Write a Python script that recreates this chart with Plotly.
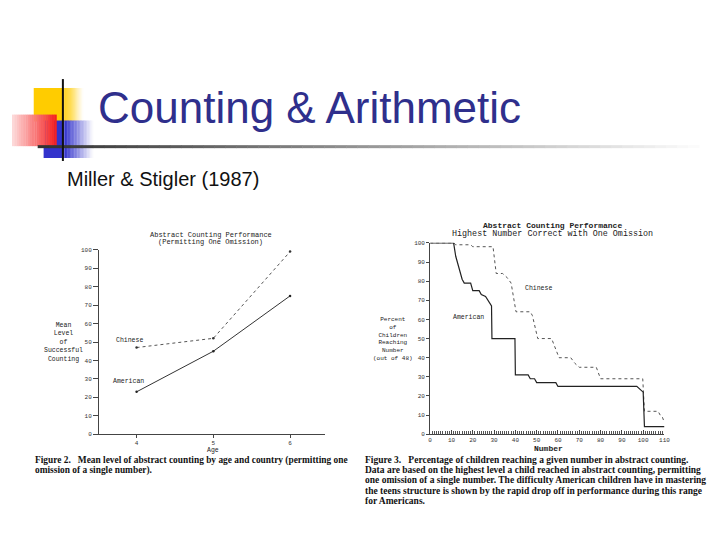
import plotly.graph_objects as go

# ---------------- data ----------------
ages = [4, 5, 6]
chinese_mean = [47, 52, 99]
american_mean = [23, 45, 75]
left_yticks = [0, 10, 20, 30, 40, 50, 60, 70, 80, 90, 100]

american_num = [0, 11, 12, 13, 14, 15, 16, 19, 20, 23, 24, 26, 28.8, 29, 39.8, 40, 46, 47, 49, 50, 59, 60, 97, 99, 100, 100.6, 110]
american_pct = [100, 100, 93, 89, 86, 81, 79, 79, 75, 75, 73, 72, 67, 50, 50, 31, 31, 29, 29, 27, 27, 25, 25, 23, 22, 4, 4]
chinese_num = [0, 11, 12, 19, 20, 29.5, 31, 34, 36, 38, 40.3, 47, 48, 50.5, 57, 59, 60.5, 66, 68, 70, 78, 80, 99.8, 100.6, 107, 108, 109, 110]
chinese_pct = [100, 100, 99, 99, 98, 98, 84, 84, 82, 79, 64, 64, 62, 50, 50, 44, 40, 40, 37, 35, 35, 29, 29, 12, 12, 10, 9, 6]
right_xticks = [0, 10, 20, 30, 40, 50, 60, 70, 80, 90, 100, 110]
right_yticks = [0, 10, 20, 30, 40, 50, 60, 70, 80, 90, 100]

title_text = "Counting & Arithmetic"
subtitle_text = "Miller & Stigler (1987)"
left_title = ["Abstract Counting Performance", "(Permitting One Omission)"]
right_title = ["Abstract Counting Performance", "Highest Number Correct with One Omission"]
left_ytitle = "Mean<br>Level<br>of<br>Successful<br>Counting"
right_ytitle = "Percent<br>of<br>Children<br>Reaching<br>Number<br>(out of 48)"
cap_left = ["<b>Figure 2.   Mean level of abstract counting by age and country (permitting one</b>",
            "<b>omission of a single number).</b>"]
cap_right = ["<b>Figure 3.   Percentage of children reaching a given number in abstract counting.</b>",
             "<b>Data are based on the highest level a child reached in abstract counting, permitting</b>",
             "<b>one omission of a single number. The difficulty American children have in mastering</b>",
             "<b>the teens structure is shown by the rapid drop off in performance during this range</b>",
             "<b>for Americans.</b>"]

# page has an 8px body margin; figure fits inside the 720x540 window
OFF = 8
W, H = 720 - 2 * OFF, 540 - 2 * OFF
def px(x): return (x - OFF) / W
def py(y): return 1 - (y - OFF) / H

MONO = "Liberation Mono"
SERIF = "Liberation Serif"
INK = "#222222"

fig = go.Figure()

# left chart
fig.add_trace(go.Scatter(x=ages, y=chinese_mean, mode="lines+markers", xaxis="x", yaxis="y",
                         line=dict(color="#555", width=1, dash="dot"), marker=dict(size=2.5, color="#333"),
                         showlegend=False, cliponaxis=False))
fig.add_trace(go.Scatter(x=ages, y=american_mean, mode="lines+markers", xaxis="x", yaxis="y",
                         line=dict(color="#333", width=1), marker=dict(size=2.5, color="#222"),
                         showlegend=False, cliponaxis=False))
# right chart
fig.add_trace(go.Scatter(x=chinese_num, y=chinese_pct, mode="lines", xaxis="x2", yaxis="y2",
                         line=dict(color="#555", width=1, dash="dot"), showlegend=False, cliponaxis=False))
fig.add_trace(go.Scatter(x=american_num, y=american_pct, mode="lines", xaxis="x2", yaxis="y2",
                         line=dict(color="#222", width=1.2), showlegend=False, cliponaxis=False))

axis_common = dict(showgrid=False, zeroline=False, showline=True, linecolor="#444", linewidth=1,
                   tickcolor="#444", tickfont=dict(family=MONO, size=6, color="#333"))

fig.update_layout(
    width=W, height=H, margin=dict(l=0, r=0, t=0, b=0),
    paper_bgcolor="white", plot_bgcolor="white",
    xaxis=dict(domain=[px(98), px(327)], range=[3.51, 6.46], tickvals=ages, ticks="outside", ticklen=3,
               anchor="y", **axis_common),
    yaxis=dict(domain=[py(437), py(250)], range=[0, 100], tickvals=left_yticks, ticks="outside", ticklen=5,
               anchor="x", **axis_common),
    xaxis2=dict(domain=[px(433), px(670)], range=[0, 110], tickvals=right_xticks, ticks="inside", ticklen=4,
                minor=dict(dtick=1, ticks="inside", ticklen=3, tickcolor="#555"),
                anchor="y2", **axis_common),
    yaxis2=dict(domain=[py(437), py(243)], range=[0, 100], tickvals=right_yticks, ticks="outside", ticklen=3,
                anchor="x2", **axis_common),
)

ann = []
def text(x, y, t, size, family=MONO, color=INK, xanchor="center", yanchor="middle", align="center"):
    ann.append(dict(x=px(x), y=py(y), xref="paper", yref="paper", text=t, showarrow=False,
                    xanchor=xanchor, yanchor=yanchor, align=align,
                    font=dict(family=family, size=size, color=color)))

# slide title
text(95, 106, title_text, 44, family="Liberation Sans", color="#2f2f8c", xanchor="left")
text(64, 178, subtitle_text, 20, family="Liberation Sans", color="#111", xanchor="left")

# left chart text
text(211, 235, left_title[0], 7)
text(211, 242, left_title[1], 7)
text(62, 344, left_ytitle, 6.5)
text(129, 342, "Chinese", 6.5)
text(128, 384, "American", 6.5)
text(213, 453, "Age", 6.5)

# right chart text
text(557, 225, "<b>" + right_title[0] + "</b>", 8)
text(557, 234.5, right_title[1], 8.4)
text(395, 340, right_ytitle, 6)
text(543, 289, "Chinese", 6.5)
text(472, 319, "American", 6.5)
text(553, 451, "<b>Number</b>", 8)

# captions
for i, line in enumerate(cap_left):
    text(31, 464 + i * 9.5, line, 9.4, family=SERIF, color="#111", xanchor="left", align="left")
for i, line in enumerate(cap_right):
    text(365, 463 + i * 10.4, line, 9.5, family=SERIF, color="#111", xanchor="left", align="left")

fig.update_layout(annotations=ann)

# ---------------- decoration ----------------
shapes = []
def rect(x0, y0, x1, y1, color, layer="below"):
    shapes.append(dict(type="rect", xref="paper", yref="paper", x0=px(x0), x1=px(x1),
                       y0=py(y1), y1=py(y0), fillcolor=color, line=dict(width=0), layer=layer))

def mix(c, t):
    # t=0 -> color c, t=1 -> white
    return "rgb(%d,%d,%d)" % tuple(int(ci + (255 - ci) * t) for ci in c)

n = 20
# yellow square (solid then fade right)
rect(32, 86, 63, 120, mix((255, 204, 0), 0))
for i in range(n):
    x0 = 63 + i * (82 - 63) / n
    rect(x0, 86, x0 + (82 - 63) / n + 0.3, 120, mix((255, 204, 0), (i + 0.5) / n))
# blue square
rect(42, 119, 63, 157, mix((51, 51, 204), 0))
for i in range(n):
    x0 = 63 + i * (92 - 63) / n
    rect(x0, 119, x0 + (92 - 63) / n + 0.3, 157, mix((51, 51, 204), (i + 0.5) / n))
# red square: fades from pale at left to red at right
for i in range(n):
    x0 = 10 + i * (55 - 10) / n
    t = 1 - (i + 0.5) / n
    rect(x0, 113, x0 + (55 - 10) / n + 0.3, 145, mix((245, 30, 30), 0.85 * t))
# horizontal gradient line
m = 60
for i in range(m):
    x0 = 36 + i * (705 - 36) / m
    shapes.append(dict(type="line", xref="paper", yref="paper", x0=px(x0), x1=px(x0 + (705 - 36) / m + 0.5),
                       y0=py(145.5), y1=py(145.5), line=dict(color=mix((50, 50, 50), i / m), width=3)))
# vertical line
shapes.append(dict(type="line", xref="paper", yref="paper", x0=px(61.5), x1=px(61.5), y0=py(77), y1=py(160),
                   line=dict(color="#111", width=2)))
fig.update_layout(shapes=shapes)

fig.write_html("out.html")
